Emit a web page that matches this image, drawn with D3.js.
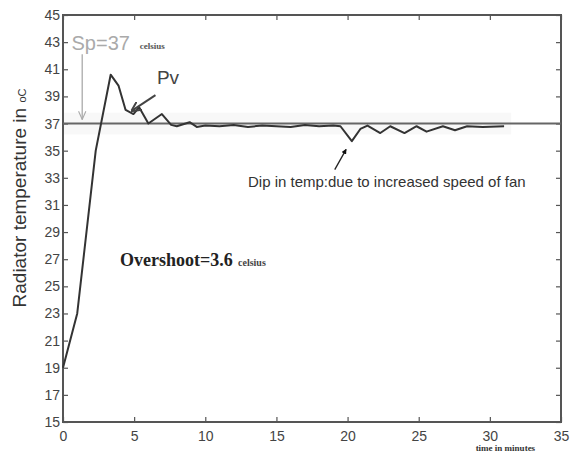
<!DOCTYPE html>
<html>
<head>
<meta charset="utf-8">
<script src="https://d3js.org/d3.v7.min.js"></script>
<style>
  body { margin: 0; background: #fff; }
  text { font-family: "Liberation Sans", Arial, sans-serif; }
</style>
</head>
<body>
<div id="chart"></div>
<script>
    // data
    const timeMin = [0, 1, 2.3, 3.35, 3.9, 4.4, 4.95, 5.35, 6.0, 6.95, 7.6, 8.0, 8.9, 9.4, 10, 11, 12, 13, 14, 15, 16, 17, 18, 19, 19.5, 20.3, 20.9, 21.4, 22.3, 23.0, 24.0, 24.85, 25.55, 26.7, 27.55, 28.4, 29.5, 31];
    const tempPv = [19, 23, 35, 40.6, 39.8, 38, 37.7, 38.2, 37.0, 37.7, 36.9, 36.8, 37.1, 36.75, 36.85, 36.8, 36.9, 36.75, 36.85, 36.8, 36.75, 36.9, 36.8, 36.85, 36.8, 35.7, 36.6, 36.85, 36.3, 36.8, 36.3, 36.8, 36.4, 36.8, 36.5, 36.8, 36.75, 36.8];
    const setPoint = 37;
    const xTicks = [0, 5, 10, 15, 20, 25, 30, 35];
    const yTicks = [15, 17, 19, 21, 23, 25, 27, 29, 31, 33, 35, 37, 39, 41, 43, 45];

    const margin = {top: 15, right: 10, bottom: 36, left: 63},
        width = 571 - margin.left - margin.right,
        height = 458 - margin.top - margin.bottom;

    const svg = d3.select("#chart").append("svg")
        .attr("width", 571).attr("height", 458)
        .append("g")
        .attr("transform", `translate(${margin.left},${margin.top})`);

    const defs = svg.append("defs");
    defs.append("marker").attr("id", "headGray")
        .attr("viewBox", "0 0 10 10").attr("refX", 9).attr("refY", 5)
        .attr("markerWidth", 7).attr("markerHeight", 7).attr("orient", "auto")
        .append("path").attr("d", "M0,1 L9,5 L0,9").attr("fill", "none").attr("stroke", "#aaa").attr("stroke-width", 1.2);
    defs.append("marker").attr("id", "headDark")
        .attr("viewBox", "0 0 10 10").attr("refX", 9).attr("refY", 5)
        .attr("markerWidth", 5).attr("markerHeight", 5).attr("orient", "auto")
        .append("path").attr("d", "M0,0 L10,5 L0,10").attr("fill", "none").attr("stroke", "#444").attr("stroke-width", 2);
    defs.append("marker").attr("id", "headFill")
        .attr("viewBox", "0 0 10 10").attr("refX", 9).attr("refY", 5)
        .attr("markerWidth", 4).attr("markerHeight", 4).attr("orient", "auto")
        .append("path").attr("d", "M0,0 L10,5 L0,10 Z").attr("fill", "#111");

    const x = d3.scaleLinear().domain([0, 35]).range([0, width]);
    const y = d3.scaleLinear().domain([15, 45]).range([height, 0]);

    // faint band around the set point
    svg.append("rect")
        .attr("x", x(0)).attr("width", x(31.5) - x(0))
        .attr("y", y(37.8)).attr("height", y(36.2) - y(37.8))
        .attr("fill", "#f8f8f8");

    // axes, MATLAB style ticks pointing inward on all four sides
    const tickStyle = g => {
        g.select(".domain").remove();
        g.selectAll(".tick line").attr("stroke", "#555").attr("stroke-width", 1.2);
        g.selectAll(".tick text").attr("fill", "#444").style("font-size", "14px");
    };
    svg.append("g").attr("transform", `translate(0,${height})`)
        .call(d3.axisBottom(x).tickValues(xTicks).tickSizeInner(-5).tickPadding(9))
        .call(tickStyle);
    svg.append("g")
        .call(d3.axisTop(x).tickValues(xTicks).tickSizeInner(-5).tickFormat(""))
        .call(tickStyle);
    svg.append("g")
        .call(d3.axisLeft(y).tickValues(yTicks).tickSizeInner(-5).tickPadding(3))
        .call(tickStyle);
    svg.append("g").attr("transform", `translate(${width},0)`)
        .call(d3.axisRight(y).tickValues(yTicks).tickSizeInner(-5).tickFormat(""))
        .call(tickStyle);

    svg.append("rect")
        .attr("width", width).attr("height", height)
        .attr("fill", "none").attr("stroke", "#555").attr("stroke-width", 2);

    // set point line
    svg.append("line")
        .attr("x1", x(0)).attr("x2", x(35))
        .attr("y1", y(setPoint)).attr("y2", y(setPoint))
        .attr("stroke", "#666").attr("stroke-width", 2);

    // process value
    const pts = timeMin.map((t, i) => [t, tempPv[i]]);
    svg.append("path")
        .datum(pts)
        .attr("fill", "none")
        .attr("stroke", "#333")
        .attr("stroke-width", 2)
        .attr("stroke-linejoin", "round")
        .attr("d", d3.line().x(d => x(d[0])).y(d => y(d[1])));

    // annotations
    svg.append("text").attr("x", x(0.6)).attr("y", y(42.4))
        .attr("fill", "#aaa").style("font-size", "20px")
        .text("Sp=37");
    svg.append("text").attr("x", x(5.4)).attr("y", y(42.5))
        .attr("fill", "#555").style("font-size", "9px").style("font-weight", "bold")
        .style("font-family", "'Liberation Serif', serif")
        .text("celsius");
    svg.append("line")
        .attr("x1", x(1.35)).attr("x2", x(1.35))
        .attr("y1", y(42.1)).attr("y2", y(37.3))
        .attr("stroke", "#aaa").attr("stroke-width", 1.3)
        .attr("marker-end", "url(#headGray)");

    svg.append("text").attr("x", x(6.6)).attr("y", y(39.9))
        .attr("fill", "#444").style("font-size", "19px")
        .text("Pv");
    svg.append("line")
        .attr("x1", x(6.5)).attr("y1", y(39.1))
        .attr("x2", x(4.85)).attr("y2", y(37.95))
        .attr("stroke", "#444").attr("stroke-width", 2)
        .attr("marker-end", "url(#headDark)");

    svg.append("line")
        .attr("x1", x(19.1)).attr("y1", y(33.6))
        .attr("x2", x(19.9)).attr("y2", y(35.1))
        .attr("stroke", "#222").attr("stroke-width", 1.3)
        .attr("marker-end", "url(#headFill)");
    svg.append("text").attr("x", x(13.0)).attr("y", y(32.3))
        .attr("fill", "#333").style("font-size", "15px")
        .text("Dip in temp:due to increased speed of fan");

    svg.append("text").attr("x", x(4.0)).attr("y", y(26.5))
        .attr("fill", "#222").style("font-size", "18px").style("font-weight", "bold")
        .style("font-family", "'Liberation Serif', 'Times New Roman', serif")
        .text("Overshoot=3.6");
    svg.append("text").attr("x", x(12.3)).attr("y", y(26.5))
        .attr("fill", "#444").style("font-size", "10px").style("font-weight", "bold")
        .style("font-family", "'Liberation Serif', serif")
        .text("celsius");

    svg.append("text").attr("x", x(29.0)).attr("y", height + 29)
        .attr("fill", "#333").style("font-size", "9px").style("font-weight", "bold")
        .style("font-family", "'Liberation Serif', serif")
        .text("time in minutes");

    // y axis title
    const yTitle = svg.append("text")
        .attr("transform", `translate(${-37},${183}) rotate(-90)`)
        .attr("text-anchor", "middle")
        .attr("fill", "#333").style("font-size", "19px");
    yTitle.append("tspan").text("Radiator temperature  in ");
    yTitle.append("tspan").style("font-size", "11px").text("oC");
</script>
</body>
</html>
